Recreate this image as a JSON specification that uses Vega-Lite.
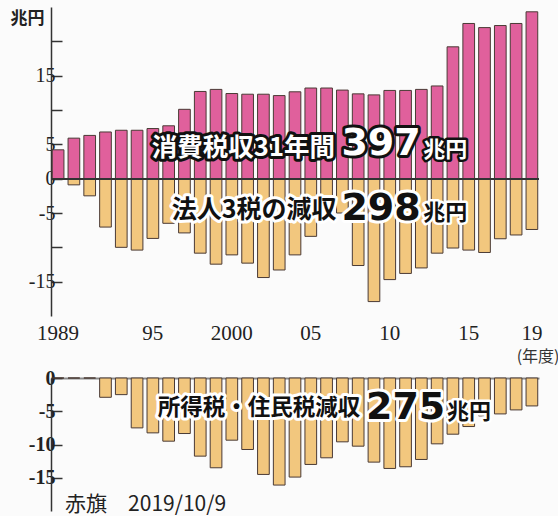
{
  "$schema": "https://vega.github.io/schema/vega-lite/v6.json",
  "background": "#fbfbfb",
  "padding": {"left": 10, "top": 7, "right": 0, "bottom": 0},
  "bounds": "flush",
  "spacing": 62,
  "config": {"view": {"stroke": null}},
  "data": {"values": [
    {"year": 1989, "ct": 4.2, "corp": 0, "inc": 0},
    {"year": 1990, "ct": 5.9, "corp": -0.9, "inc": 0},
    {"year": 1991, "ct": 6.3, "corp": -2.5, "inc": 0},
    {"year": 1992, "ct": 6.8, "corp": -7.05, "inc": -2.9},
    {"year": 1993, "ct": 7.05, "corp": -10.0, "inc": -2.5},
    {"year": 1994, "ct": 7.05, "corp": -10.4, "inc": -7.5},
    {"year": 1995, "ct": 7.3, "corp": -8.7, "inc": -8.25},
    {"year": 1996, "ct": 7.7, "corp": -6.5, "inc": -9.5},
    {"year": 1997, "ct": 10.1, "corp": -7.9, "inc": -8.35},
    {"year": 1998, "ct": 12.7, "corp": -10.85, "inc": -11.75},
    {"year": 1999, "ct": 13.0, "corp": -12.45, "inc": -13.5},
    {"year": 2000, "ct": 12.4, "corp": -11.1, "inc": -9.35},
    {"year": 2001, "ct": 12.3, "corp": -12.3, "inc": -10.75},
    {"year": 2002, "ct": 12.3, "corp": -14.4, "inc": -14.5},
    {"year": 2003, "ct": 12.1, "corp": -13.3, "inc": -16.1},
    {"year": 2004, "ct": 12.65, "corp": -11.1, "inc": -14.9},
    {"year": 2005, "ct": 13.2, "corp": -8.4, "inc": -13.0},
    {"year": 2006, "ct": 13.2, "corp": -5.3, "inc": -12.0},
    {"year": 2007, "ct": 12.9, "corp": -5.0, "inc": -9.6},
    {"year": 2008, "ct": 12.35, "corp": -12.65, "inc": -10.25},
    {"year": 2009, "ct": 12.2, "corp": -17.9, "inc": -12.65},
    {"year": 2010, "ct": 12.85, "corp": -14.7, "inc": -13.6},
    {"year": 2011, "ct": 12.85, "corp": -13.8, "inc": -13.35},
    {"year": 2012, "ct": 13.0, "corp": -13.0, "inc": -12.25},
    {"year": 2013, "ct": 13.5, "corp": -10.85, "inc": -9.9},
    {"year": 2014, "ct": 19.2, "corp": -10.1, "inc": -8.45},
    {"year": 2015, "ct": 22.6, "corp": -10.4, "inc": -7.3},
    {"year": 2016, "ct": 22.0, "corp": -10.75, "inc": -5.7},
    {"year": 2017, "ct": 22.3, "corp": -8.75, "inc": -5.4},
    {"year": 2018, "ct": 22.6, "corp": -8.2, "inc": -4.8},
    {"year": 2019, "ct": 24.3, "corp": -7.4, "inc": -4.2}
  ]},
  "vconcat": [
    {
      "width": 488,
      "height": 309,
      "layer": [
        {
          "mark": {"type": "bar", "fill": "#e0609c", "stroke": "#4a3a35", "strokeWidth": 1},
          "encoding": {
            "x": {"field": "year", "type": "ordinal", "scale": {"paddingInner": 0.26, "paddingOuter": 0.08},
              "axis": {"values": [1989, 1995, 2000, 2005, 2010, 2015, 2019],
                "labelExpr": "datum.value == 1989 || datum.value == 2000 ? '' + datum.value : slice('' + datum.value, 2)",
                "ticks": false, "domain": false, "labelAngle": 0, "labelFont": "Liberation Serif", "labelFontSize": 21,
                "labelColor": "#222", "labelPadding": 6,
                "title": "(年度)", "titleFont": "Noto Sans CJK JP", "titleFontSize": 16, "titleFontWeight": "normal",
                "titleColor": "#333", "titleAnchor": "end", "titleAlign": "right", "titleBaseline": "middle", "titleX": 508, "titleY": 40}},
            "y": {"field": "ct", "type": "quantitative", "scale": {"domain": [-20, 25], "nice": false},
              "axis": {"values": [20, 15, 10, 5, 0, -5, -10, -15],
                "labelExpr": "datum.value == 20 || datum.value == 10 || datum.value == -10 ? '' : '' + datum.value",
                "grid": false, "tickSize": -11, "tickColor": "#333", "tickWidth": 1.5, "domainColor": "#333", "domainWidth": 1.5,
                "labelFont": "Liberation Serif", "labelFontSize": 20, "labelColor": "#222", "labelPadding": 7,
                "title": "兆円", "titleAngle": 0, "titleFont": "Noto Sans CJK JP", "titleFontSize": 17, "titleFontWeight": "bold",
                "titleColor": "#222", "titleAlign": "right", "titleBaseline": "top", "titleX": -7, "titleY": 3}}
          }
        },
        {
          "mark": {"type": "bar", "fill": "#f2c77e", "stroke": "#4a3a35", "strokeWidth": 1},
          "encoding": {
            "x": {"field": "year", "type": "ordinal"},
            "y": {"field": "corp", "type": "quantitative"}
          }
        },
        {
          "mark": {"type": "rule", "color": "#333", "strokeWidth": 1},
          "encoding": {"y": {"datum": 0, "type": "quantitative"}}
        },
        {
          "data": {"values": [{"year": 1995, "v": 4.5, "t": "消費税収31年間"}]},
          "mark": {"type": "text", "align": "left", "baseline": "middle", "dx": -1, "font": "Noto Sans CJK JP", "fontSize": 25.5, "fontWeight": "bold", "fill": "#111", "stroke": "#111", "strokeWidth": 6, "strokeJoin": "round"},
          "encoding": {"x": {"field": "year", "type": "ordinal"}, "y": {"field": "v", "type": "quantitative"}, "text": {"field": "t"}}
        },
        {
          "data": {"values": [{"year": 1995, "v": 4.5, "t": "消費税収31年間"}]},
          "mark": {"type": "text", "align": "left", "baseline": "middle", "dx": -1, "font": "Noto Sans CJK JP", "fontSize": 25.5, "fontWeight": "bold", "fill": "#ffffff"},
          "encoding": {"x": {"field": "year", "type": "ordinal"}, "y": {"field": "v", "type": "quantitative"}, "text": {"field": "t"}}
        },
        {
          "data": {"values": [{"year": 2007, "v": 5.1, "t": "397"}]},
          "mark": {"type": "text", "align": "left", "baseline": "middle", "dx": -1, "font": "DejaVu Sans", "fontSize": 38, "fontWeight": "bold", "fill": "#111", "stroke": "#111", "strokeWidth": 6, "strokeJoin": "round"},
          "encoding": {"x": {"field": "year", "type": "ordinal"}, "y": {"field": "v", "type": "quantitative"}, "text": {"field": "t"}}
        },
        {
          "data": {"values": [{"year": 2007, "v": 5.1, "t": "397"}]},
          "mark": {"type": "text", "align": "left", "baseline": "middle", "dx": -1, "font": "DejaVu Sans", "fontSize": 38, "fontWeight": "bold", "fill": "#ffffff"},
          "encoding": {"x": {"field": "year", "type": "ordinal"}, "y": {"field": "v", "type": "quantitative"}, "text": {"field": "t"}}
        },
        {
          "data": {"values": [{"year": 2012, "v": 4.2, "t": "兆円"}]},
          "mark": {"type": "text", "align": "left", "baseline": "middle", "dx": 2, "font": "Noto Sans CJK JP", "fontSize": 22, "fontWeight": "bold", "fill": "#111", "stroke": "#111", "strokeWidth": 5, "strokeJoin": "round"},
          "encoding": {"x": {"field": "year", "type": "ordinal"}, "y": {"field": "v", "type": "quantitative"}, "text": {"field": "t"}}
        },
        {
          "data": {"values": [{"year": 2012, "v": 4.2, "t": "兆円"}]},
          "mark": {"type": "text", "align": "left", "baseline": "middle", "dx": 2, "font": "Noto Sans CJK JP", "fontSize": 22, "fontWeight": "bold", "fill": "#ffffff"},
          "encoding": {"x": {"field": "year", "type": "ordinal"}, "y": {"field": "v", "type": "quantitative"}, "text": {"field": "t"}}
        },
        {
          "data": {"values": [{"year": 1996, "v": -4.6, "t": "法人3税の減収"}]},
          "mark": {"type": "text", "align": "left", "baseline": "middle", "dx": 3, "font": "Noto Sans CJK JP", "fontSize": 25, "fontWeight": "bold", "fill": "#ffffff", "stroke": "#ffffff", "strokeWidth": 6, "strokeJoin": "round"},
          "encoding": {"x": {"field": "year", "type": "ordinal"}, "y": {"field": "v", "type": "quantitative"}, "text": {"field": "t"}}
        },
        {
          "data": {"values": [{"year": 1996, "v": -4.6, "t": "法人3税の減収"}]},
          "mark": {"type": "text", "align": "left", "baseline": "middle", "dx": 3, "font": "Noto Sans CJK JP", "fontSize": 25, "fontWeight": "bold", "fill": "#111"},
          "encoding": {"x": {"field": "year", "type": "ordinal"}, "y": {"field": "v", "type": "quantitative"}, "text": {"field": "t"}}
        },
        {
          "data": {"values": [{"year": 2007, "v": -4.4, "t": "298"}]},
          "mark": {"type": "text", "align": "left", "baseline": "middle", "dx": -1, "font": "DejaVu Sans", "fontSize": 38, "fontWeight": "bold", "fill": "#ffffff", "stroke": "#ffffff", "strokeWidth": 6, "strokeJoin": "round"},
          "encoding": {"x": {"field": "year", "type": "ordinal"}, "y": {"field": "v", "type": "quantitative"}, "text": {"field": "t"}}
        },
        {
          "data": {"values": [{"year": 2007, "v": -4.4, "t": "298"}]},
          "mark": {"type": "text", "align": "left", "baseline": "middle", "dx": -1, "font": "DejaVu Sans", "fontSize": 38, "fontWeight": "bold", "fill": "#111"},
          "encoding": {"x": {"field": "year", "type": "ordinal"}, "y": {"field": "v", "type": "quantitative"}, "text": {"field": "t"}}
        },
        {
          "data": {"values": [{"year": 2012, "v": -5.0, "t": "兆円"}]},
          "mark": {"type": "text", "align": "left", "baseline": "middle", "dx": 2, "font": "Noto Sans CJK JP", "fontSize": 22, "fontWeight": "bold", "fill": "#ffffff", "stroke": "#ffffff", "strokeWidth": 5, "strokeJoin": "round"},
          "encoding": {"x": {"field": "year", "type": "ordinal"}, "y": {"field": "v", "type": "quantitative"}, "text": {"field": "t"}}
        },
        {
          "data": {"values": [{"year": 2012, "v": -5.0, "t": "兆円"}]},
          "mark": {"type": "text", "align": "left", "baseline": "middle", "dx": 2, "font": "Noto Sans CJK JP", "fontSize": 22, "fontWeight": "bold", "fill": "#111"},
          "encoding": {"x": {"field": "year", "type": "ordinal"}, "y": {"field": "v", "type": "quantitative"}, "text": {"field": "t"}}
        }
      ]
    },
    {
      "width": 488,
      "height": 133,
      "layer": [
        {
          "mark": {"type": "bar", "fill": "#f2c77e", "stroke": "#4a3a35", "strokeWidth": 1},
          "encoding": {
            "x": {"field": "year", "type": "ordinal", "scale": {"paddingInner": 0.26, "paddingOuter": 0.08},
              "axis": {"orient": "top", "labels": false, "ticks": false, "domain": true, "domainColor": "#8a8a8a", "domainWidth": 2, "title": null}},
            "y": {"field": "inc", "type": "quantitative", "scale": {"domain": [-20, 0], "nice": false},
              "axis": {"values": [0, -5, -10, -15], "labelExpr": "'' + datum.value",
                "grid": false, "tickSize": -11, "tickColor": "#333", "tickWidth": 1.5, "domainColor": "#333", "domainWidth": 1.5,
                "labelFont": "Liberation Serif", "labelFontSize": 20, "labelFontWeight": "bold", "labelColor": "#222", "labelPadding": 7, "title": null}}
          }
        },
        {
          "data": {"values": [{"year": 1995, "v": -4.5, "t": "所得税・住民税減収"}]},
          "mark": {"type": "text", "align": "left", "baseline": "middle", "dx": 5, "font": "Noto Sans CJK JP", "fontSize": 22.5, "fontWeight": "bold", "fill": "#ffffff", "stroke": "#ffffff", "strokeWidth": 6, "strokeJoin": "round"},
          "encoding": {"x": {"field": "year", "type": "ordinal"}, "y": {"field": "v", "type": "quantitative"}, "text": {"field": "t"}}
        },
        {
          "data": {"values": [{"year": 1995, "v": -4.5, "t": "所得税・住民税減収"}]},
          "mark": {"type": "text", "align": "left", "baseline": "middle", "dx": 5, "font": "Noto Sans CJK JP", "fontSize": 22.5, "fontWeight": "bold", "fill": "#111"},
          "encoding": {"x": {"field": "year", "type": "ordinal"}, "y": {"field": "v", "type": "quantitative"}, "text": {"field": "t"}}
        },
        {
          "data": {"values": [{"year": 2009, "v": -4.44, "t": "275"}]},
          "mark": {"type": "text", "align": "left", "baseline": "middle", "dx": -8, "font": "DejaVu Sans", "fontSize": 38, "fontWeight": "bold", "fill": "#ffffff", "stroke": "#ffffff", "strokeWidth": 6, "strokeJoin": "round"},
          "encoding": {"x": {"field": "year", "type": "ordinal"}, "y": {"field": "v", "type": "quantitative"}, "text": {"field": "t"}}
        },
        {
          "data": {"values": [{"year": 2009, "v": -4.44, "t": "275"}]},
          "mark": {"type": "text", "align": "left", "baseline": "middle", "dx": -8, "font": "DejaVu Sans", "fontSize": 38, "fontWeight": "bold", "fill": "#111"},
          "encoding": {"x": {"field": "year", "type": "ordinal"}, "y": {"field": "v", "type": "quantitative"}, "text": {"field": "t"}}
        },
        {
          "data": {"values": [{"year": 2014, "v": -5.1, "t": "兆円"}]},
          "mark": {"type": "text", "align": "left", "baseline": "middle", "dx": -6, "font": "Noto Sans CJK JP", "fontSize": 22, "fontWeight": "bold", "fill": "#ffffff", "stroke": "#ffffff", "strokeWidth": 5, "strokeJoin": "round"},
          "encoding": {"x": {"field": "year", "type": "ordinal"}, "y": {"field": "v", "type": "quantitative"}, "text": {"field": "t"}}
        },
        {
          "data": {"values": [{"year": 2014, "v": -5.1, "t": "兆円"}]},
          "mark": {"type": "text", "align": "left", "baseline": "middle", "dx": -6, "font": "Noto Sans CJK JP", "fontSize": 22, "fontWeight": "bold", "fill": "#111"},
          "encoding": {"x": {"field": "year", "type": "ordinal"}, "y": {"field": "v", "type": "quantitative"}, "text": {"field": "t"}}
        },
        {
          "data": {"values": [{"year": 1989, "v": -19.1, "t": "赤旗　2019/10/9"}]},
          "mark": {"type": "text", "align": "left", "baseline": "middle", "dx": 7, "font": "Noto Sans CJK JP", "fontSize": 21, "fontWeight": "normal", "fill": "#222"},
          "encoding": {"x": {"field": "year", "type": "ordinal"}, "y": {"field": "v", "type": "quantitative"}, "text": {"field": "t"}}
        }
      ]
    }
  ]
}
